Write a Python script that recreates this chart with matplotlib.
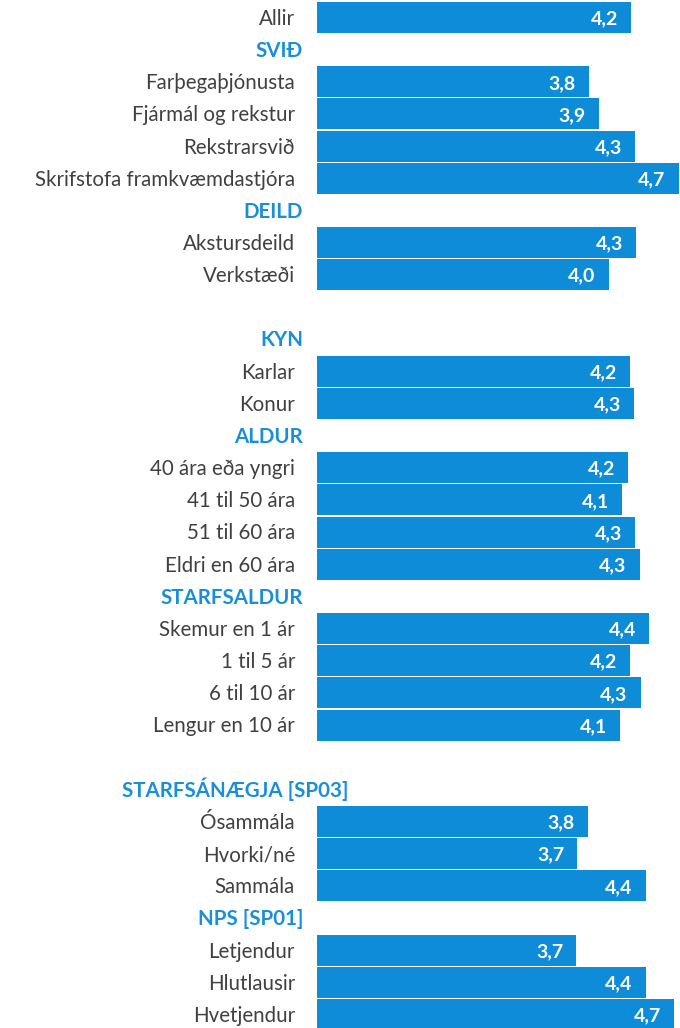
import matplotlib.pyplot as plt
import matplotlib.transforms as mtransforms

# data (values on a 1-5 scale)
allir_value = 4.22

svid_labels = ["Farþegaþjónusta", "Fjármál og rekstur", "Rekstrarsvið", "Skrifstofa framkvæmdastjóra"]
svid_values = [3.79, 3.89, 4.26, 4.71]

deild_labels = ["Akstursdeild", "Verkstæði"]
deild_values = [4.27, 3.99]

kyn_labels = ["Karlar", "Konur"]
kyn_values = [4.21, 4.255]

aldur_labels = ["40 ára eða yngri", "41 til 50 ára", "51 til 60 ára", "Eldri en 60 ára"]
aldur_values = [4.19, 4.13, 4.26, 4.31]

starfsaldur_labels = ["Skemur en 1 ár", "1 til 5 ár", "6 til 10 ár", "Lengur en 10 ár"]
starfsaldur_values = [4.41, 4.21, 4.32, 4.11]

sp03_labels = ["Ósammála", "Hvorki/né", "Sammála"]
sp03_values = [3.78, 3.67, 4.37]

sp01_labels = ["Letjendur", "Hlutlausir", "Hvetjendur"]
sp01_values = [3.66, 4.37, 4.66]

BAR = "#0e8cd7"
HEAD = "#1a8fd9"
TXT = "#404040"

plt.rcParams['font.family'] = ['Lato', 'DejaVu Sans']

# build row list: (kind, label, value)
rows = [("bar", "Allir", allir_value)]
rows.append(("head", "SVIÐ", None))
rows += [("bar", l, v) for l, v in zip(svid_labels, svid_values)]
rows.append(("head", "DEILD", None))
rows += [("bar", l, v) for l, v in zip(deild_labels, deild_values)]
rows.append(("blank", "", None))
rows.append(("head", "KYN", None))
rows += [("bar", l, v) for l, v in zip(kyn_labels, kyn_values)]
rows.append(("head", "ALDUR", None))
rows += [("bar", l, v) for l, v in zip(aldur_labels, aldur_values)]
rows.append(("head", "STARFSALDUR", None))
rows += [("bar", l, v) for l, v in zip(starfsaldur_labels, starfsaldur_values)]
rows.append(("blank", "", None))
rows.append(("head", "STARFSÁNÆGJA [SP03]", None))
rows += [("bar", l, v) for l, v in zip(sp03_labels, sp03_values)]
rows.append(("head", "NPS [SP01]", None))
rows += [("bar", l, v) for l, v in zip(sp01_labels, sp01_values)]

W, H = 680, 1028
fig = plt.figure(figsize=(W / 100, H / 100), dpi=100)
x0 = 317
ax = fig.add_axes([x0 / W, 0, 1 - x0 / W, 1])
base = 1.0
ax.set_xlim(base, base + (W - x0) / 97.5)
pitch = 32.16
ax.set_ylim(len(rows) - 1 + (H - 17.5 - pitch * (len(rows) - 1)) / pitch, -17.5 / pitch)
ax.axis("off")

lab_tr = mtransforms.offset_copy(
    mtransforms.blended_transform_factory(fig.transFigure, ax.transData),
    fig=fig, y=-5.3, units="points")

for i, (kind, label, val) in enumerate(rows):
    if kind == "bar":
        ax.barh(i, val - base, left=base, height=0.964, color=BAR, edgecolor="none")
        ax.annotate(f"{round(val, 1):.1f}".replace(".", ","), (val, i), xytext=(-9.5, -5),
                    textcoords="offset points", ha="right", va="baseline",
                    color="white", fontsize=14, fontweight="bold")
        ax.text(295 / W, i, label, transform=lab_tr, ha="right", va="baseline",
                color=TXT, fontsize=14.8)
    elif kind == "head":
        xr = 348 if label.startswith("STARFSÁN") else 303
        ax.text(xr / W, i, label, transform=lab_tr, ha="right", va="baseline",
                color=HEAD, fontsize=14.8, fontweight="bold")

fig.savefig("out.png", dpi=100)
